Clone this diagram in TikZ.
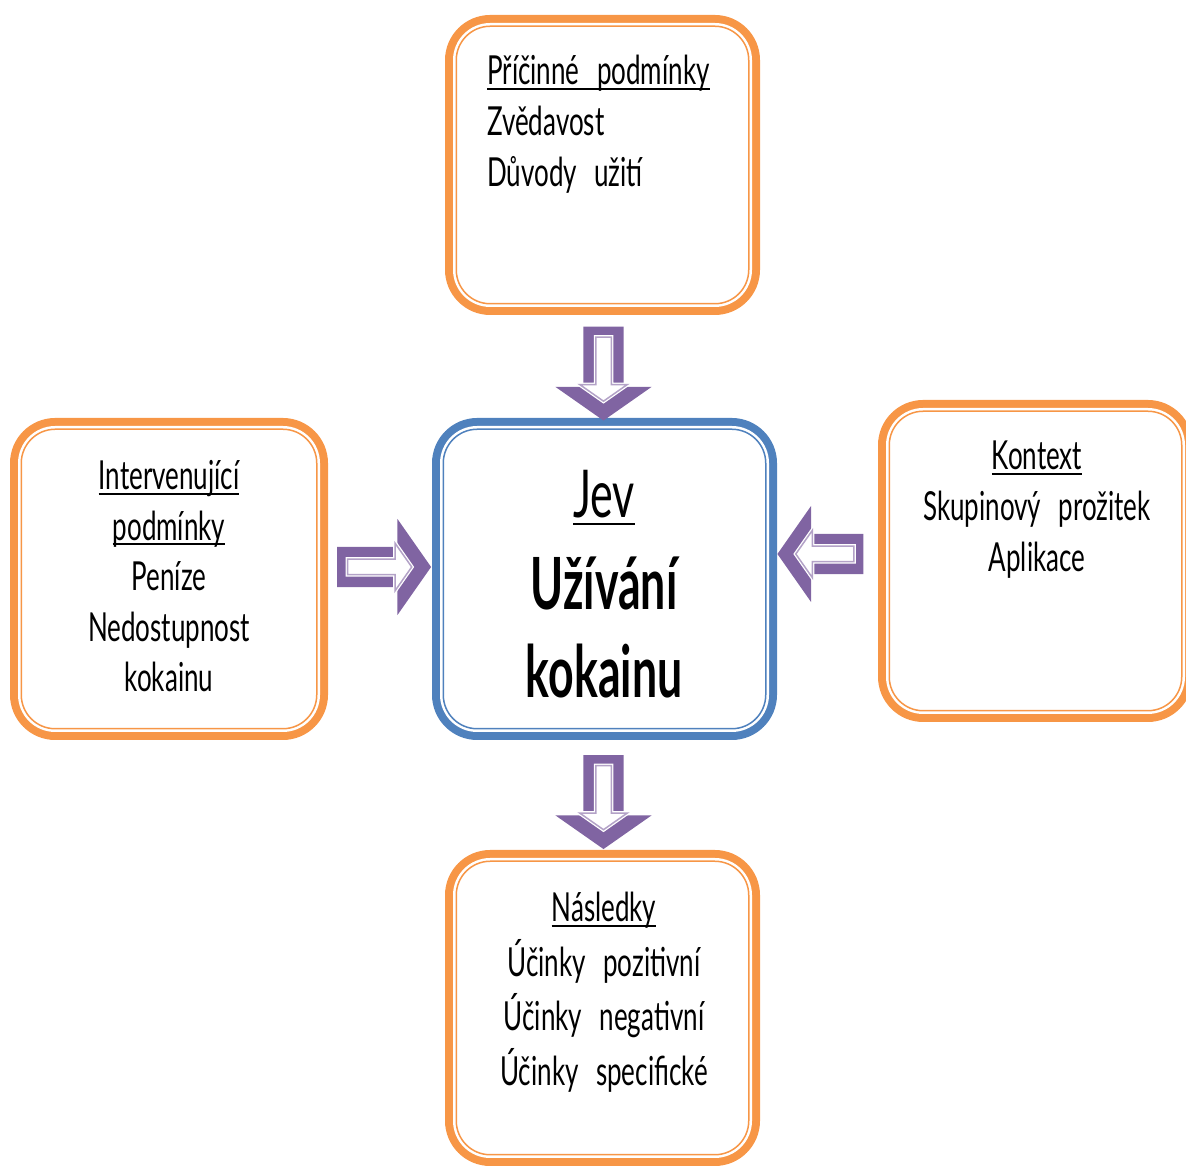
\documentclass[tikz,border=0pt]{standalone}
\usepackage{fontspec}
\setmainfont{Lato}[FakeStretch=0.65, WordSpace=2.6, BoldFeatures={FakeStretch=0.62}]
\usetikzlibrary{shapes.arrows, calc}

\definecolor{boxorange}{HTML}{F79646}
\definecolor{boxblue}{HTML}{4F81BD}
\definecolor{arrpurple}{HTML}{8064A2}
\definecolor{arrlilac}{HTML}{B3A2C7}

% underline that runs through the descenders
\newcommand{\ulword}[2][5pt]{\setbox0\hbox{#2}\rlap{\rule[-#1]{\wd0}{2.2pt}}\box0}

\begin{document}
\begin{tikzpicture}[x=1pt, y=1pt,
    framebox/.style={rectangle, rounded corners=34pt, outer sep=11.25pt,
        minimum width=292.5pt, minimum height=299.5pt,
        preaction={draw=#1, line width=22.5pt},
        preaction={fill=white, draw=white, line width=6.5pt},
        draw=#1, line width=1.5pt},
    boxtext/.style={inner sep=0pt, align=center, anchor=base,
        font=\fontsize{40}{51}\selectfont},
    fatarrow/.style={single arrow, fill=arrpurple, draw=none, outer sep=0pt,
        minimum height=94pt, inner xsep=0pt, inner ysep=20pt,
        single arrow head extend=28pt, single arrow tip angle=110},
    fatarrowin/.style={single arrow, fill=white, draw=arrlilac, line width=1.5pt,
        preaction={draw=white, line width=4pt},
        minimum height=64pt, inner xsep=0pt, inner ysep=7pt,
        single arrow head extend=16pt, single arrow tip angle=110}]
\useasboundingbox (0,0) rectangle (1186,1166);

% the five boxes
\node[framebox=boxorange, minimum height=277.5pt] (cause) at (602.5,1001) {};
\node[framebox=boxblue, minimum width=322.5pt] (phen) at (604.5,587) {};
\node[framebox=boxorange, minimum width=295.5pt] (interv) at (169,587) {};
\node[framebox=boxorange] (context) at (1035.5,605) {};
\node[framebox=boxorange, minimum height=293.5pt] (cons) at (602.5,158) {};

% texts (base = last line)
\node[boxtext, align=left, anchor=base west] (causetxt) at (487,979)
    {\ulword{Příčinné podmínky}\\ Zvědavost\\ Důvody užití};
\node[boxtext, font=\fontsize{66}{80}\selectfont] (jevtxt) at (604,648)
    {\ulword[7pt]{Jev}};
\node[boxtext, font=\fontsize{72}{88}\selectfont\bfseries] (phentxt) at (604,468)
    {Užívání\\ kokainu};
\node[boxtext, font=\fontsize{40}{50.5}\selectfont] (intervtxt) at (169,474)
    {\ulword{Intervenující}\\ \ulword{podmínky}\\ Peníze\\ Nedostupnost\\ kokainu};
\node[boxtext] (contexttxt) at (1037,594)
    {\ulword{Kontext}\\ Skupinový prožitek\\ Aplikace};
\node[boxtext, font=\fontsize{40}{54.5}\selectfont] (constxt) at (604,80.5)
    {\ulword{Následky}\\ Účinky pozitivní\\ Účinky negativní\\ Účinky specifické};

% block arrows
\node[fatarrow, rotate=-90] (a1) at ($(cause.south)!0.5!(phen.north)$) {};
\node[fatarrowin, rotate=-90] (a1in) at (a1) {};
\node[fatarrow, rotate=-90] (a2) at ($(phen.south)!0.5!(cons.north)$) {};
\node[fatarrowin, rotate=-90] (a2in) at (a2) {};
\node[fatarrow] (a3) at ($(interv.east)!0.5!(phen.west)+(-3,12)$) {};
\node[fatarrowin] (a3in) at (a3) {};
\node[fatarrow, rotate=180, minimum height=86pt] (a4) at ($(phen.east)!0.5!(context.west)+(0,16)$) {};
\node[fatarrowin, rotate=180, minimum height=58pt] (a4in) at (a4) {};
\end{tikzpicture}
\end{document}
